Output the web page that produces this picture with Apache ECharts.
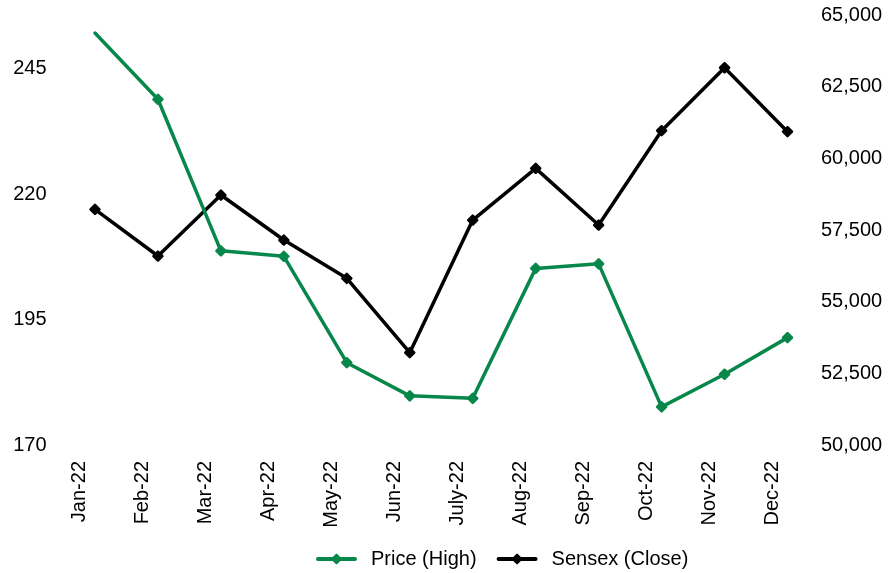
<!DOCTYPE html>
<html>
<head>
<meta charset="utf-8">
<script src="https://cdn.jsdelivr.net/npm/echarts@6/dist/echarts.min.js"></script>
<style>
html,body{margin:0;padding:0;background:#fff;}
#chart{width:888px;height:573px;}
</style>
</head>
<body>
<div id="chart"></div>
<script>
const categories = ['Jan-22','Feb-22','Mar-22','Apr-22','May-22','Jun-22','July-22','Aug-22','Sep-22','Oct-22','Nov-22','Dec-22'];
const priceHigh = [252.1, 238.9, 208.7, 207.6, 186.4, 179.8, 179.3, 205.2, 206.1, 177.6, 184.1, 191.4];
const sensexClose = [58221, 56592, 58720, 57150, 55815, 53220, 57848, 59651, 57673, 60963, 63160, 60928];
const leftTicks = {min: 170, max: 255.7, interval: 25};
const rightTicks = {min: 50000, max: 65000, interval: 2500};

const FONT = 'Liberation Sans, Arial, sans-serif';
const GREEN = '#08874A';
const LABEL_SHIFT = 15.5;

const chart = echarts.init(document.getElementById('chart'), null, {renderer: 'canvas'});
chart.setOption({
  animation: false,
  backgroundColor: '#ffffff',
  grid: [
    {left: 63.5, right: 69, top: 15, bottom: 128, containLabel: false},
    {left: 63.5 - LABEL_SHIFT, right: 69 + LABEL_SHIFT, top: 15, bottom: 128, containLabel: false}
  ],
  legend: {
    left: 311, top: 544,
    itemWidth: 37, itemHeight: 11, itemGap: 20,
    lineStyle: {width: 4},
    textStyle: {fontFamily: FONT, fontSize: 20, color: '#000', padding: [0, 0, 0, 11]},
    data: ['Price (High)', 'Sensex (Close)']
  },
  xAxis: [
    {
      type: 'category', gridIndex: 0,
      data: categories,
      boundaryGap: true,
      axisLine: {show: false},
      axisTick: {show: false},
      axisLabel: {show: false}
    },
    {
      type: 'category', gridIndex: 1,
      data: categories,
      boundaryGap: true,
      axisLine: {show: false},
      axisTick: {show: false},
      axisLabel: {
        rotate: 90, interval: 0, margin: 16,
        fontFamily: FONT, fontSize: 20, color: '#000'
      }
    }
  ],
  yAxis: [
    {
      type: 'value', position: 'left', gridIndex: 0,
      min: leftTicks.min, max: leftTicks.max, interval: leftTicks.interval,
      axisLine: {show: false}, axisTick: {show: false}, splitLine: {show: false},
      axisLabel: {margin: 17, fontFamily: FONT, fontSize: 20, color: '#000', showMaxLabel: false}
    },
    {
      type: 'value', position: 'right', gridIndex: 0,
      min: rightTicks.min, max: rightTicks.max, interval: rightTicks.interval,
      axisLine: {show: false}, axisTick: {show: false}, splitLine: {show: false},
      axisLabel: {
        margin: 2, fontFamily: FONT, fontSize: 20, color: '#000',
        formatter: v => v.toLocaleString('en-US')
      }
    },
    {
      type: 'value', gridIndex: 1, show: false
    }
  ],
  series: [
    {
      name: 'Price (High)', type: 'line', xAxisIndex: 0, yAxisIndex: 0,
      data: priceHigh.map((v, i) => i === 0 ? {value: v, symbol: 'none'} : v),
      symbol: 'diamond', symbolSize: 9, showAllSymbol: true,
      lineStyle: {color: GREEN, width: 3.5, join: 'round', cap: 'round'},
      itemStyle: {color: GREEN, borderColor: GREEN, borderWidth: 2.5, borderJoin: 'round'},
      z: 3
    },
    {
      name: 'Sensex (Close)', type: 'line', xAxisIndex: 0, yAxisIndex: 1,
      data: sensexClose,
      symbol: 'diamond', symbolSize: 9, showAllSymbol: true,
      lineStyle: {color: '#000', width: 3.5, join: 'round', cap: 'round'},
      itemStyle: {color: '#000', borderColor: '#000', borderWidth: 2.5, borderJoin: 'round'},
      z: 2
    }
  ]
});
</script>
</body>
</html>
